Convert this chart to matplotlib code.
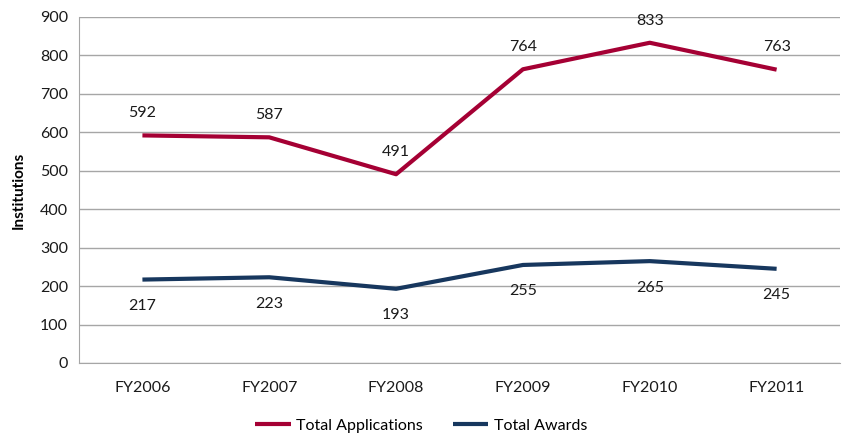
import matplotlib.pyplot as plt

years = ["FY2006", "FY2007", "FY2008", "FY2009", "FY2010", "FY2011"]
applications = [592, 587, 491, 764, 833, 763]
awards = [217, 223, 193, 255, 265, 245]

plt.rcParams['font.family'] = ['Lato', 'DejaVu Sans']

fig = plt.figure(figsize=(8.44, 4.46), dpi=100)
ax = fig.add_axes([0.0936, 0.1861, 0.9017, 0.7758])

x = list(range(len(years)))
ax.plot(x, applications, color='#A50034', lw=3, label="Total Applications", solid_capstyle='butt')
ax.plot(x, awards, color='#17375E', lw=3, label="Total Awards", solid_capstyle='butt')

for i, v in enumerate(applications):
    ax.annotate(str(v), (i, v), xytext=(0, 16), textcoords='offset points',
                ha='center', va='center', fontsize=11.5, color='#1a1a1a')
for i, v in enumerate(awards):
    ax.annotate(str(v), (i, v), xytext=(0, -19), textcoords='offset points',
                ha='center', va='center', fontsize=11.5, color='#1a1a1a')

ax.set_xlim(-0.5, len(years) - 0.5)
ax.set_ylim(0, 900)
ax.set_yticks(range(0, 901, 100))
ax.set_xticks(x)
ax.set_xticklabels(years)
ax.tick_params(length=0, labelsize=11.5, colors='#1a1a1a', pad=8)
ax.tick_params(axis='x', pad=13)
ax.grid(axis='y', color='#a6a6a6', lw=1)
ax.set_axisbelow(True)
for s in ['top', 'right']:
    ax.spines[s].set_visible(False)
for s in ['left', 'bottom']:
    ax.spines[s].set_color('#a6a6a6')
ax.set_ylabel("Institutions", fontsize=11, fontweight='bold', labelpad=10)

ax.legend(loc='upper center', bbox_to_anchor=(0.45, -0.12), ncol=2, frameon=False,
          fontsize=11.5, handlelength=2.2, columnspacing=1.9, handletextpad=0.35)

fig.savefig("out.png", dpi=100)
